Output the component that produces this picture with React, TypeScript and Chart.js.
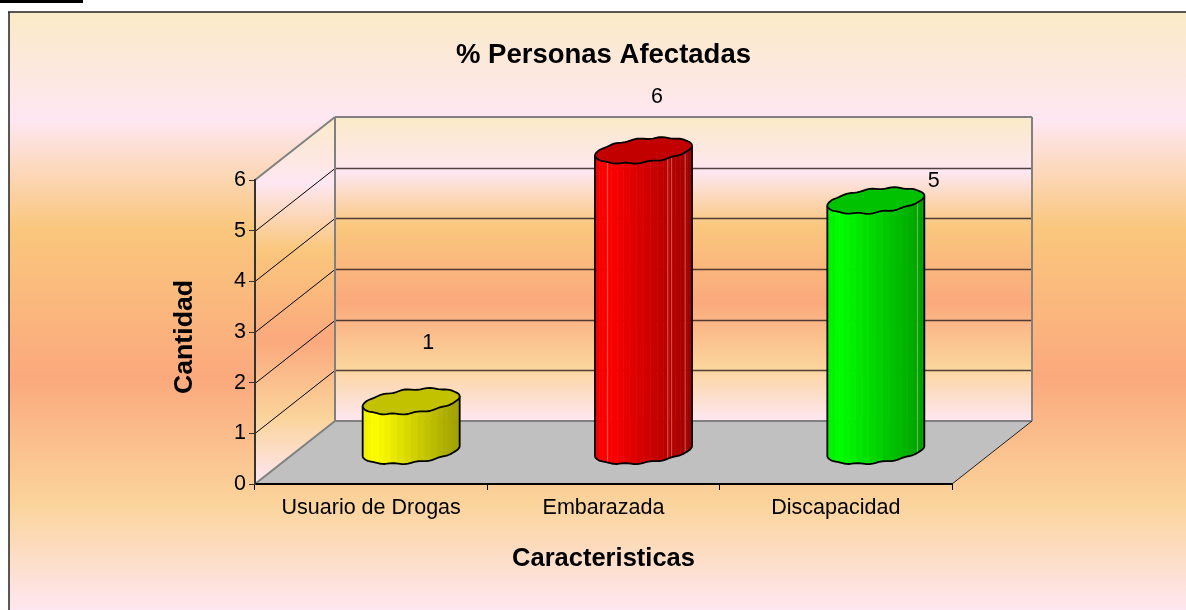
import React, { useEffect, useRef } from "react";
import { Chart, registerables } from "chart.js";

Chart.register(...registerables);

const categories = ["Usuario de Drogas", "Embarazada", "Discapacidad"];
const values = [1, 6, 5];
const barColors = ["#FFFF00", "#FF0000", "#00FF00"];
const yTicks = [0, 1, 2, 3, 4, 5, 6];
const titleText = "% Personas Afectadas";
const xTitle = "Caracteristicas";
const yTitle = "Cantidad";

const FONT = "'Liberation Sans', Arial, sans-serif";
const DEPTH_X = 80;
const DEPTH_Y = -63;
const LABEL_SHIFT = [
  [57, -90],
  [53.5, -83],
  [98, -50],
];
const HIGHLIGHTS = [[], [0.13, 0.75, 0.79, 0.93], [0.93]];
const PEACH: [number, string][] = [
  [0, "#FBEAC7"],
  [0.18, "#FEE7F2"],
  [0.36, "#FAC77D"],
  [0.61, "#FBA97D"],
  [0.82, "#FBD49B"],
  [1, "#FEE7F2"],
];

function peach(ctx: CanvasRenderingContext2D, y0: number, y1: number) {
  const g = ctx.createLinearGradient(0, y0, 0, y1);
  PEACH.forEach(([o, c]) => g.addColorStop(o, c));
  return g;
}

function poly(ctx: CanvasRenderingContext2D, pts: number[][]) {
  ctx.beginPath();
  pts.forEach((p, i) => (i ? ctx.lineTo(p[0], p[1]) : ctx.moveTo(p[0], p[1])));
  ctx.closePath();
}

function line(ctx: CanvasRenderingContext2D, a: number[], b: number[], color: string, w: number) {
  ctx.strokeStyle = color;
  ctx.lineWidth = w;
  ctx.beginPath();
  ctx.moveTo(a[0], a[1]);
  ctx.lineTo(b[0], b[1]);
  ctx.stroke();
}

function shade(hex: string, f: number) {
  const n = parseInt(hex.slice(1), 16);
  const c = [(n >> 16) & 255, (n >> 8) & 255, n & 255].map((v) => Math.round(v * f));
  return `rgb(${c[0]},${c[1]},${c[2]})`;
}

const scenePlugin = {
  id: "scene",
  beforeDraw(chart: any) {
    const { ctx, chartArea: a, scales } = chart;
    const y = scales.y;
    const W = chart.width;
    const H = chart.height;
    ctx.save();
    ctx.fillStyle = "#fff";
    ctx.fillRect(0, 0, W, H);
    ctx.fillStyle = "#000";
    ctx.fillRect(0, 0, 83, 3);
    ctx.fillStyle = peach(ctx, 12, 612);
    ctx.fillRect(9, 12, W - 9, H - 12);
    line(ctx, [8, 12], [W, 12], "#222", 1.5);
    line(ctx, [9, 12], [9, H], "#222", 1.5);

    const bl = a.left + DEPTH_X;
    const br = a.right + DEPTH_X;
    const bt = a.top + DEPTH_Y;
    const bb = a.bottom + DEPTH_Y;
    ctx.fillStyle = peach(ctx, bt, bb);
    ctx.fillRect(bl, bt, br - bl, bb - bt);
    poly(ctx, [[a.left, a.top], [bl, bt], [bl, bb], [a.left, a.bottom]]);
    ctx.fillStyle = peach(ctx, bt, a.bottom);
    ctx.fill();

    y.ticks.forEach((t: any) => {
      if (t.value === 0 || t.value === 6) return;
      const py = Math.round(y.getPixelForValue(t.value)) + 0.5;
      line(ctx, [a.left, py], [bl, py + DEPTH_Y], "#000", 1);
      line(ctx, [bl, py + DEPTH_Y], [br, py + DEPTH_Y], "rgba(50,35,35,0.85)", 1.3);
    });

    poly(ctx, [[a.left, a.bottom], [bl, bb], [br, bb], [a.right, a.bottom]]);
    ctx.fillStyle = "#C0C0C0";
    ctx.fill();

    line(ctx, [bl, bb], [br, bb], "#808080", 2);
    line(ctx, [bl, bt], [br, bt], "#808080", 2);
    line(ctx, [bl, bt], [bl, bb], "#808080", 2);
    line(ctx, [br, bt], [br, bb], "#808080", 2);
    line(ctx, [a.left, a.top], [bl, bt], "#808080", 2);
    line(ctx, [a.left, a.bottom], [bl, bb], "#808080", 2);
    line(ctx, [a.right, a.bottom], [br, bb], "#222", 1);

    ctx.translate(185, 337);
    ctx.rotate(-Math.PI / 2);
    ctx.fillStyle = "#000";
    ctx.font = `bold 26.7px ${FONT}`;
    ctx.textAlign = "center";
    ctx.textBaseline = "middle";
    ctx.fillText(yTitle, 0, 0);
    ctx.restore();
  },
  beforeDatasetDraw(chart: any) {
    const { ctx } = chart;
    const bars = chart.getDatasetMeta(0).data;
    ctx.save();
    bars.forEach((bar: any, i: number) => {
      const a = bar.width / 2;
      const b = 11.8;
      const k = 5;
      const cx = bar.x + DEPTH_X / 2;
      const baseY = bar.base + DEPTH_Y / 2 - 1;
      const topY = baseY - (bar.base - bar.y) * 0.99;
      const P = (t: number, cy: number) => {
        const s = Math.sin(t);
        return [
          cx + a * Math.cos(t),
          cy + b * s - k * Math.cos(t) + 0.8 * s * s * Math.sin(t * 12),
        ];
      };
      const color = barColors[i];
      const N = 22;
      ctx.lineJoin = "round";
      for (let s = 0; s < N; s++) {
        const t0 = Math.PI - (Math.PI * s) / N;
        const t1 = Math.PI - (Math.PI * (s + 1)) / N;
        const xu = (Math.cos((t0 + t1) / 2) + 1) / 2;
        const f = xu < 0.12 ? 0.93 + (xu / 0.12) * 0.07 : 1 - ((xu - 0.12) / 0.88) * 0.38;
        const strip = [P(t0, topY), P(t1, topY), P(t1, baseY), P(t0, baseY)];
        poly(ctx, strip);
        ctx.fillStyle = shade(color, f);
        ctx.fill();
        ctx.strokeStyle = shade(color, f);
        ctx.lineWidth = 0.6;
        ctx.stroke();
      }
      HIGHLIGHTS[i].forEach((xu) => {
        const t = Math.acos(xu * 2 - 1);
        line(ctx, P(t, topY), P(t, baseY), "rgba(255,225,200,0.4)", 1);
      });

      // front outline: left edge, lower rim, right edge
      const M = 48;
      ctx.beginPath();
      const l0 = P(Math.PI, topY);
      ctx.moveTo(l0[0], l0[1]);
      for (let s = 0; s <= M; s++) {
        const p = P(Math.PI - (Math.PI * s) / M, baseY);
        ctx.lineTo(p[0], p[1]);
      }
      const r0 = P(0, topY);
      ctx.lineTo(r0[0], r0[1]);
      ctx.strokeStyle = "#000";
      ctx.lineWidth = 1.8;
      ctx.stroke();

      // top cap
      ctx.beginPath();
      for (let s = 0; s <= M * 2; s++) {
        const p = P((Math.PI * s) / M, topY);
        if (s) ctx.lineTo(p[0], p[1]);
        else ctx.moveTo(p[0], p[1]);
      }
      ctx.closePath();
      ctx.fillStyle = shade(color, 0.76);
      ctx.fill();
      ctx.stroke();
    });

    ctx.fillStyle = "#000";
    ctx.font = `21.5px ${FONT}`;
    ctx.textAlign = "center";
    ctx.textBaseline = "middle";
    bars.forEach((bar: any, i: number) => {
      ctx.fillText(String(values[i]), bar.x + LABEL_SHIFT[i][0], bar.y + LABEL_SHIFT[i][1]);
    });
    ctx.restore();
    return false;
  },
};

export default function App() {
  const ref = useRef<HTMLCanvasElement | null>(null);

  useEffect(() => {
    document.body.style.margin = "0";
    const chart = new Chart(ref.current as HTMLCanvasElement, {
      type: "bar",
      data: {
        labels: categories,
        datasets: [
          {
            label: titleText,
            data: values,
            backgroundColor: barColors,
            barPercentage: 0.4175,
            categoryPercentage: 1,
          },
        ],
      },
      options: {
        animation: false,
        responsive: false,
        layout: { padding: { left: 160, right: 234, top: 0, bottom: 0 } },
        plugins: {
          legend: { display: false },
          tooltip: { enabled: false },
          title: {
            display: true,
            text: titleText,
            fullSize: false,
            color: "#000",
            font: { family: FONT, size: 27.5, weight: "bold" },
            padding: { top: 38.5, bottom: 108.5 },
          },
        },
        scales: {
          x: {
            afterFit: (s: any) => {
              s.height = 126;
            },
            grid: { drawOnChartArea: false, color: "#000", tickLength: 6, offset: true },
            border: { display: true, color: "#000", width: 2 },
            ticks: { color: "#000", font: { family: FONT, size: 21.5 }, padding: 5, maxRotation: 0 },
            title: {
              display: true,
              text: xTitle,
              color: "#000",
              font: { family: FONT, size: 25.5, weight: "bold" },
              padding: { top: 0, bottom: 35.7 },
            },
          },
          y: {
            min: yTicks[0],
            max: yTicks[yTicks.length - 1],
            afterFit: (s: any) => {
              s.width = 95;
            },
            afterBuildTicks: (s: any) => {
              s.ticks = yTicks.map((value) => ({ value }));
            },
            grid: { drawOnChartArea: false, color: "#333", tickLength: 6 },
            border: { display: true, color: "#333", width: 2 },
            ticks: { color: "#000", font: { family: FONT, size: 21.5 }, padding: 3 },
          },
        },
      },
      plugins: [scenePlugin],
    } as any);
    return () => chart.destroy();
  }, []);

  return (
    <canvas
      ref={ref}
      width={1186}
      height={610}
      style={{ position: "absolute", left: 0, top: 0, display: "block" }}
    />
  );
}
